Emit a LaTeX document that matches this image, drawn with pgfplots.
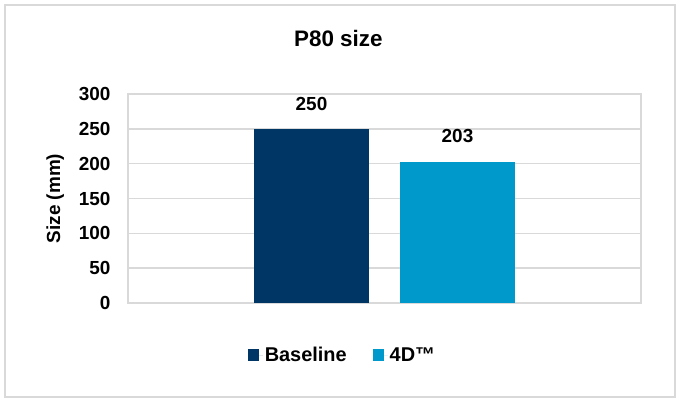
\documentclass[border=0pt]{standalone}
\usepackage{fontspec}
\setmainfont{Liberation Sans}
\usepackage{pgfplots}
\pgfplotsset{compat=1.18}
\definecolor{navy}{RGB}{0,54,101}
\definecolor{lblue}{RGB}{0,153,204}
\definecolor{gridgray}{RGB}{217,217,217}
\begin{document}
\begin{tikzpicture}
\useasboundingbox (0,0) rectangle (684bp,402bp);
\draw[gridgray, line width=2bp] (5bp,5bp) rectangle (675bp,397bp);
\begin{axis}[
  at={(128bp,99bp)}, anchor=south west,
  scale only axis, width=513bp, height=209bp,
  xmin=0, xmax=1, ymin=0, ymax=300,
  ytick={0,50,...,300}, xtick=\empty,
  major tick length=0pt,
  ymajorgrids, grid style={gridgray, line width=1.5bp},
  axis line style={gridgray, line width=1.5bp},
  /pgf/number format/assume math mode=true,
  font=\fontsize{19}{23}\selectfont\bfseries,
  yticklabel style={font=\fontsize{19}{23}\selectfont\bfseries, xshift=-14bp},
  ylabel={Size (mm)},
  ylabel style={at={(axis description cs:-0.142,0.5)}, anchor=center, font=\fontsize{19}{23}\selectfont\bfseries},
  title={P80 size},
  title style={at={(axis description cs:0.41,1.201)}, anchor=base, font=\fontsize{22.5}{27}\selectfont\bfseries},
  ybar, bar width=0.224, bar shift=0pt,
  nodes near coords,
  nodes near coords style={font=\fontsize{19}{23}\selectfont\bfseries, anchor=south, yshift=15bp, /pgf/number format/assume math mode=true},
  legend style={at={(axis description cs:0.418,-0.249)}, anchor=center, draw=none, fill=none,
    font=\fontsize{20}{24}\selectfont\bfseries,
    /tikz/every even column/.append style={column sep=24bp}},
  legend columns=2,
  legend image code/.code={\fill[#1] (0bp,-6bp) rectangle (11bp,6bp); \path (0bp,0bp) -- (15bp,0bp);},
]
\addplot[fill=navy, draw=none] coordinates {(0.3577,250)};
\addlegendentry{Baseline}
\addplot[fill=lblue, draw=none] coordinates {(0.6423,203)};
\addlegendentry{4D™}
\end{axis}
\end{tikzpicture}
\end{document}
